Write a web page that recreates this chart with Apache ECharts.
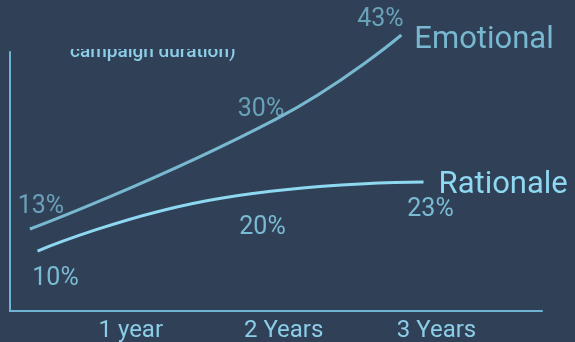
<!DOCTYPE html>
<html>
<head>
<meta charset="utf-8">
<script src="https://cdn.jsdelivr.net/npm/echarts@6/dist/echarts.min.js"></script>
<style>
  html, body { margin: 0; padding: 0; background: #304157; }
  #chart { width: 575px; height: 342px; }
</style>
</head>
<body>
<div id="chart"></div>
<script>
// ---- data ----
const xLabels = ['1 year', '2 Years', '3 Years'];
const xLabelValues = [1, 2, 3];
const emotionalYears = [0.34, 1.95, 2.77];
const emotionalPct = [13, 30, 43];
const rationaleYears = [0.39, 1.6, 2.915];
const rationalePct = [10, 20, 23];
const seriesNames = ['Emotional', 'Rationale'];
const subtitle = 'campaign duration)';

// ---- styling ----
const BG = '#304157';
const AXIS = '#6fb4d2';
const EMO = '#78b9d1';
const RAT = '#8ed8f2';
const FONT = 'Roboto, "Noto Sans", sans-serif';

const emoLabelOffsets = [[11, -22], [-15, -9], [-21, -15]];
const ratLabelOffsets = [[18, 28], [40, 30], [7, 28]];

function pts(xs, ys) { return xs.map((x, i) => [x, ys[i]]); }
function labelPts(xs, ys, offs) {
  return xs.map((x, i) => ({
    value: [x, ys[i]],
    label: { offset: offs[i] }
  }));
}

const chart = echarts.init(document.getElementById('chart'));
chart.setOption({
  backgroundColor: BG,
  animation: false,
  grid: { left: 10, right: 33, top: 52, bottom: 31, containLabel: false, outerBoundsMode: 'none' },
  xAxis: {
    type: 'value', min: 0.21, max: 3.69,
    axisLine: { show: true, onZero: false, lineStyle: { color: AXIS, width: 2 } },
    axisTick: { show: false },
    splitLine: { show: false },
    axisLabel: {
      customValues: xLabelValues,
      formatter: v => xLabels[xLabelValues.indexOf(Math.round(v))],
      color: '#8ccde8', fontSize: 24, fontFamily: FONT, margin: 8
    }
  },
  yAxis: [
    {
      type: 'value', min: 0.32, max: 40.37,
      axisLine: { show: true, onZero: false, lineStyle: { color: AXIS, width: 2 } },
      axisTick: { show: false }, axisLabel: { show: false }, splitLine: { show: false }
    },
    {
      type: 'value', min: -1.3, max: 47.5, show: false,
      splitLine: { show: false }
    }
  ],
  series: [
    {
      name: seriesNames[0], type: 'line', yAxisIndex: 0, clip: false,
      smooth: 0.5, showSymbol: false, symbol: 'none',
      lineStyle: { color: EMO, width: 3 },
      data: pts(emotionalYears, emotionalPct),
      endLabel: {
        show: true, formatter: '{a}', color: EMO, fontSize: 31, fontFamily: FONT,
        distance: 13, offset: [0, 5]
      }
    },
    {
      name: seriesNames[1], type: 'line', yAxisIndex: 1, clip: false,
      smooth: 0.5, showSymbol: false, symbol: 'none',
      lineStyle: { color: RAT, width: 3 },
      data: pts(rationaleYears, rationalePct),
      endLabel: {
        show: true, formatter: '{a}', color: RAT, fontSize: 31, fontFamily: FONT,
        distance: 15, offset: [0, 3]
      }
    },
    {
      type: 'scatter', yAxisIndex: 0, clip: false, symbolSize: 1,
      itemStyle: { color: 'rgba(0,0,0,0)' }, silent: true,
      label: {
        show: true, position: 'inside', color: EMO, fontSize: 25, fontFamily: FONT,
        formatter: p => p.value[1] + '%'
      },
      data: labelPts(emotionalYears, emotionalPct, emoLabelOffsets)
    },
    {
      type: 'scatter', yAxisIndex: 1, clip: false, symbolSize: 1,
      itemStyle: { color: 'rgba(0,0,0,0)' }, silent: true,
      label: {
        show: true, position: 'inside', color: RAT, fontSize: 25, fontFamily: FONT,
        formatter: p => p.value[1] + '%'
      },
      data: labelPts(rationaleYears, rationalePct, ratLabelOffsets)
    }
  ],
  graphic: [
    {
      type: 'text', left: 70, top: 43, z: 1,
      style: { text: subtitle, fill: '#8ccde8', font: '500 19px ' + FONT }
    },
    {
      type: 'rect', left: 60, top: 0, z: 2,
      shape: { width: 190, height: 49 },
      style: { fill: BG }
    }
  ]
});
</script>
</body>
</html>
